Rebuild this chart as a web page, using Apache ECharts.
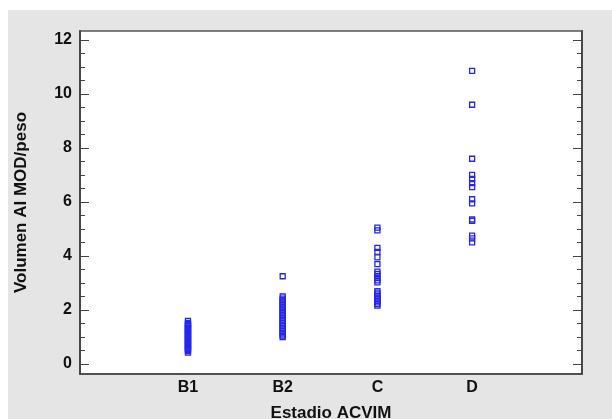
<!DOCTYPE html>
<html><head><meta charset="utf-8">
<script src="https://cdn.jsdelivr.net/npm/echarts@6/dist/echarts.min.js"></script>
<style>
html,body{margin:0;padding:0;background:#fff;width:612px;height:419px;overflow:hidden}
#c{position:absolute;left:8px;top:10px;width:604px;height:409px;background:#e5e5e5}
</style></head><body><div id="c"></div>
<script>
const categories = ['B1', 'B2', 'C', 'D'];
const valuesB1 = [1.6, 1.52, 1.48, 1.44, 1.4, 1.36, 1.32, 1.28, 1.24, 1.2, 1.16, 1.12, 1.08, 1.04, 1.0, 0.96, 0.92, 0.88, 0.84, 0.8, 0.76, 0.72, 0.68, 0.64, 0.6, 0.56, 0.52, 0.48, 0.42];
const valuesB2 = [3.25, 2.5, 2.42, 2.36, 2.3, 2.24, 2.18, 2.12, 2.06, 2.0, 1.94, 1.88, 1.82, 1.76, 1.7, 1.64, 1.58, 1.52, 1.46, 1.4, 1.34, 1.28, 1.22, 1.16, 1.1, 1.05, 1.0];
const valuesC = [5.05, 4.95, 4.3, 4.15, 3.95, 3.7, 3.42, 3.34, 3.26, 3.18, 3.1, 3.02, 2.7, 2.64, 2.58, 2.52, 2.46, 2.4, 2.34, 2.28, 2.22, 2.16];
const valuesD = [10.85, 9.6, 7.6, 7.0, 6.85, 6.7, 6.55, 6.1, 5.95, 5.35, 5.3, 4.75, 4.65, 4.5];
const yTicks = [0, 2, 4, 6, 8, 10, 12];
const yMinorTicks = [0.5,1,1.5,2.5,3,3.5,4.5,5,5.5,6.5,7,7.5,8.5,9,9.5,10.5,11,11.5];
const groups = [valuesB1, valuesB2, valuesC, valuesD];

const data = [];
groups.forEach((g, i) => g.forEach(v => data.push([i + 1, v])));

const YMIN = -0.37, YMAX = 12.33;
const font = {fontFamily: 'Liberation Sans, Arial, sans-serif', fontWeight: 'bold', color: '#111'};
function yAx(pos, custom, len, labels) {
  return {
    type: 'value', position: pos, min: YMIN, max: YMAX,
    axisLine: {show: true, onZero: false, lineStyle: {color: '#444', width: 1.5}},
    axisTick: {show: true, inside: true, length: len, customValues: custom, lineStyle: {color: '#444', width: 1}},
    axisLabel: labels ? Object.assign({show: true, customValues: yTicks, fontSize: 16, margin: 8}, font) : {show: false},
    splitLine: {show: false}
  };
}
const chart = echarts.init(document.getElementById('c'), null, {renderer: 'canvas'});
const yAxes = [yAx('left', yTicks, 9, true), yAx('left', yMinorTicks, 5, false), yAx('right', yTicks, 9, false), yAx('right', yMinorTicks, 5, false)];
yAxes[0].name = 'Volumen AI MOD/peso';
yAxes[0].nameLocation = 'middle';
yAxes[0].nameGap = 50;
yAxes[0].nameTextStyle = Object.assign({fontSize: 17}, font);
chart.setOption({
  animation: false,
  grid: {left: 72, top: 21, right: 30, bottom: 45, outerBoundsMode: 'none', containLabel: false, show: true, backgroundColor: '#fff', borderColor: '#555', borderWidth: 1.5},
  xAxis: {
    type: 'value', min: -0.14, max: 5.16,
    name: 'Estadio ACVIM', nameLocation: 'middle', nameGap: 31,
    nameTextStyle: Object.assign({fontSize: 17}, font),
    axisLine: {show: true, onZero: false, lineStyle: {color: '#444', width: 1.5}},
    axisTick: {show: false},
    axisLabel: Object.assign({customValues: [1, 2, 3, 4], fontSize: 16, margin: 6, formatter: v => categories[Math.round(v) - 1] || ''}, font),
    splitLine: {show: false}
  },
  yAxis: yAxes,
  series: [{
    type: 'scatter', data: data, symbol: 'rect', symbolSize: 5,
    itemStyle: {color: 'rgba(255,255,255,0)', borderColor: '#2626ee', borderWidth: 1.3, opacity: 1}
  }]
});
</script></body></html>
